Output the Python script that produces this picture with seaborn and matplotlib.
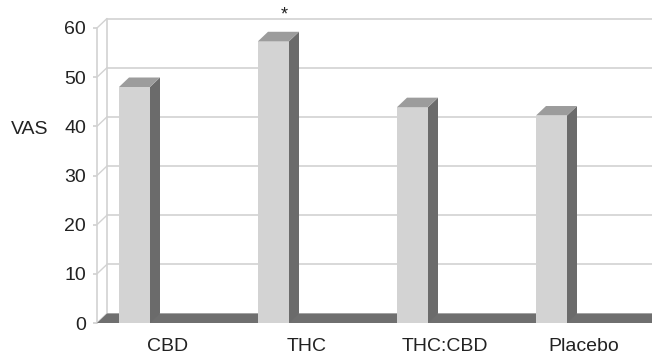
import matplotlib
matplotlib.use("Agg")
import matplotlib.pyplot as plt
from matplotlib.patches import Polygon
import seaborn as sns
import pandas as pd

categories = ["CBD", "THC", "THC:CBD", "Placebo"]
vas_values = [48.0, 57.3, 43.9, 42.2]
y_ticks = [0, 10, 20, 30, 40, 50, 60]
significance = ["", "*", "", ""]

sns.set_theme(style="white")
plt.rcParams["font.family"] = ["Liberation Sans", "DejaVu Sans"]

W, H = 652, 356
fig = plt.figure(figsize=(W / 100, H / 100), dpi=100)
left_px, zero_px = 97, 323
ax = fig.add_axes([left_px / W, (H - zero_px) / H, (W - left_px) / W, zero_px / H])

px_per_unit_y = 295 / 60.0
px_per_cat = 139.0
x0 = (left_px - 134.5) / px_per_cat
x1 = x0 + (W - left_px) / px_per_cat
ymax = zero_px / px_per_unit_y
dx = 10 / px_per_cat
dy = 9.5 / px_per_unit_y

df = pd.DataFrame({"treatment": categories, "vas": vas_values})

front = "#d3d3d3"
side = "#6b6b6b"
topc = "#9c9c9c"
grid = "#d2d2d2"
textc = "#222222"

sns.barplot(data=df, x="treatment", y="vas", color=front, saturation=1,
            width=31 / px_per_cat, ax=ax, zorder=5, linewidth=0)
bars = list(ax.patches)

ax.set_xlim(x0, x1)
ax.set_ylim(0, ymax)

# back wall gridlines and left wall diagonals
for v in y_ticks:
    ax.plot([x0 + dx, x1 + 1], [v + dy, v + dy], color=grid, lw=1.2, zorder=1, clip_on=False)
    ax.plot([x0, x0 + dx], [v, v + dy], color=grid, lw=1.0, zorder=1, clip_on=False)
ax.plot([x0 + dx, x0 + dx], [dy, max(y_ticks) + dy], color=grid, lw=1.2, zorder=1)
ax.plot([x0, x0], [0, max(y_ticks)], color=grid, lw=1.2, zorder=1, clip_on=False)

# floor
floor = Polygon([(x0, 0), (x1 + 1, 0), (x1 + 1 + dx, dy), (x0 + dx, dy)],
                closed=True, facecolor="#6f6f6f", edgecolor="none", zorder=3, clip_on=False)
ax.add_patch(floor)

# 3D side/top faces derived from the seaborn bars
for p in bars:
    bx, bw, bh = p.get_x(), p.get_width(), p.get_height()
    ax.add_patch(Polygon([(bx + bw, 0), (bx + bw + dx, dy), (bx + bw + dx, bh + dy), (bx + bw, bh)],
                         closed=True, facecolor=side, edgecolor="none", zorder=5))
    ax.add_patch(Polygon([(bx, bh), (bx + bw, bh), (bx + bw + dx, bh + dy), (bx + dx, bh + dy)],
                         closed=True, facecolor=topc, edgecolor="none", zorder=5))

# significance markers
for i, (s, v) in enumerate(zip(significance, vas_values)):
    if s:
        ax.text(i + 0.08, v + 5.4, s, ha="center", va="center", fontsize=13,
                color=textc, zorder=6)

for s in ax.spines.values():
    s.set_visible(False)
ax.set_facecolor("none")

ax.set_yticks(y_ticks)
ax.set_yticklabels([str(t) for t in y_ticks], fontsize=14, color=textc)
ax.tick_params(axis="y", length=3, color=grid, pad=5, left=True)
ax.set_xticks([i + 0.235 for i in range(len(categories))])
ax.set_xticklabels(categories, fontsize=14, color=textc)
ax.tick_params(axis="x", length=0, pad=11)
ax.set_xlabel("")
ax.set_ylabel("")
ax.grid(False)

fig.text(30 / W, 1 - 129.5 / H, "VAS", ha="center", va="center", fontsize=14, color=textc)

fig.savefig("out.png", dpi=100, facecolor="white")
